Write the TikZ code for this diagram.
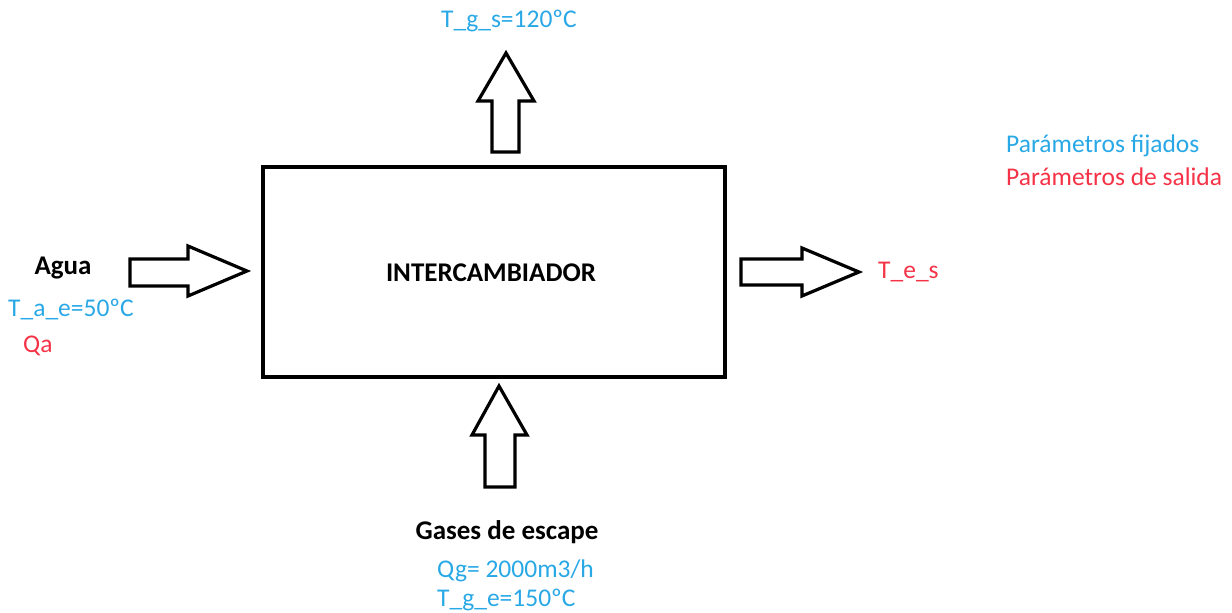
\documentclass[tikz,border=0pt]{standalone}
\usepackage{fontspec}
\setmainfont{Carlito}
\definecolor{fixblue}{RGB}{41,168,230}
\definecolor{outred}{RGB}{245,50,70}
\begin{document}
\begin{tikzpicture}[x=1pt,y=-1pt,
  blockarrow/.style={draw=black,fill=white,line width=3.2pt,line join=miter},
  lbl/.style={font=\fontsize{25.5}{30}\selectfont,inner sep=0pt},
  bold/.style={lbl,font=\fontsize{27}{32}\selectfont\bfseries},
  fixed/.style={lbl,text=fixblue},
  outp/.style={lbl,text=outred}]
\useasboundingbox (0,0) rectangle (1232,613);
% main box
\draw[line width=4.5pt] (263,167) rectangle (725,377);
\node[bold] (box) at (491,273) {INTERCAMBIADOR};
% top arrow (out)
\draw[blockarrow] (492,152) -- (492,101) -- (478,101) -- (506,53) -- (534,101) -- (519,101) -- (519,152) -- cycle;
% bottom arrow (in)
\draw[blockarrow] (485,487) -- (485,435) -- (472,435) -- (499,386) -- (527,435) -- (515,435) -- (515,487) -- cycle;
% left arrow (in)
\draw[blockarrow] (130,259) -- (188,259) -- (188,246) -- (247,271) -- (188,296) -- (188,286) -- (130,286) -- cycle;
% right arrow (out)
\draw[blockarrow] (741,259) -- (802,259) -- (802,248) -- (859,272) -- (802,296) -- (802,285) -- (741,285) -- cycle;
% labels
\node[fixed] (tgs) at (509,21) {T\_g\_s=120ºC};
\node[fixed,anchor=west] (leg1) at (1006,146) {Parámetros fijados};
\node[outp,anchor=west] (leg2) at (1006,177) {Parámetros de salida};
\node[bold] (agua) at (63,268) {Agua};
\node[fixed,anchor=west] (tae) at (8,309) {T\_a\_e=50ºC};
\node[outp,anchor=west] (qa) at (23,346) {Qa};
\node[outp,anchor=west] (tes) at (878,272) {T\_e\_s};
\node[bold] (gases) at (507,532) {Gases de escape};
\node[fixed,anchor=west] (qg) at (437,571) {Qg= 2000m3/h};
\node[fixed,anchor=west] (tge) at (437,600) {T\_g\_e=150ºC};
\end{tikzpicture}
\end{document}
